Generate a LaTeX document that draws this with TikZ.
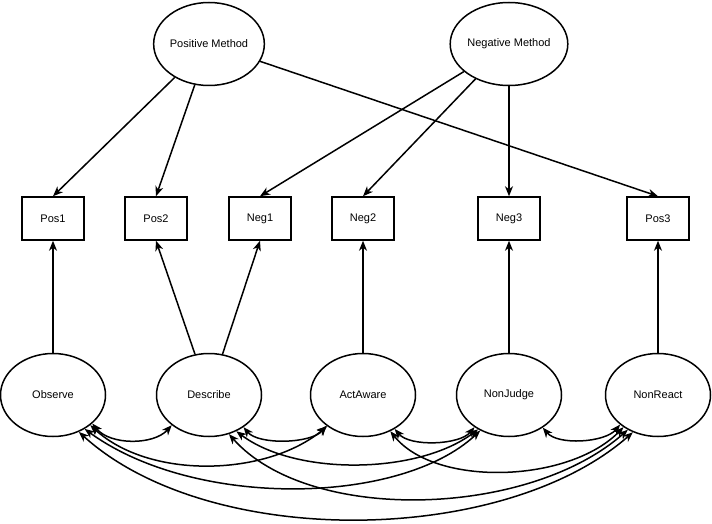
\documentclass[tikz,border=0pt]{standalone}
\usepackage{fontspec}
\setmainfont{Liberation Sans}
\usetikzlibrary{arrows.meta,shapes.geometric}
\begin{document}
\begin{tikzpicture}[x=1pt,y=-1pt,line width=1.5pt,
  lat/.style={ellipse,draw,minimum width=105pt,minimum height=83pt,inner sep=0pt,font=\fontsize{11}{13}\selectfont},
  obs/.style={rectangle,draw,minimum width=62pt,minimum height=43pt,inner sep=0pt,font=\fontsize{11}{13}\selectfont},
  reg/.style={-{Stealth[length=10pt,width=8pt,inset=3pt]}},
  cov/.style={{Stealth[length=10pt,width=8pt,inset=3pt]}-{Stealth[length=10pt,width=8pt,inset=3pt]}}
]
\useasboundingbox (0,0) rectangle (712,524);
% method factors
\node[lat] (pm) at (209,44) {Positive Method};
\node[lat] (nm) at (509,44) {Negative Method};
% indicators
\node[obs] (pos1) at (53,218.5) {Pos1};
\node[obs] (pos2) at (156,218.5) {Pos2};
\node[obs] (neg1) at (260,218.5) {Neg1};
\node[obs] (neg2) at (363,218.5) {Neg2};
\node[obs] (neg3) at (509,218.5) {Neg3};
\node[obs] (pos3) at (658,218.5) {Pos3};
% facets
\node[lat] (obsv) at (53,395) {Observe};
\node[lat] (desc) at (209,395) {Describe};
\node[lat] (act) at (363,395) {ActAware};
\node[lat] (nj) at (509,395) {NonJudge};
\node[lat] (nr) at (658,395) {NonReact};
% method loadings
\draw[reg] (pm) -- (pos1.north);
\draw[reg] (pm) -- (pos2.north);
\draw[reg] (pm) -- (pos3.north);
\draw[reg] (nm) -- (neg1.north);
\draw[reg] (nm) -- (neg2.north);
\draw[reg] (nm) -- (neg3.north);
% facet loadings
\draw[reg] (obsv) -- (pos1.south);
\draw[reg] (desc) -- (pos2.south);
\draw[reg] (desc) -- (neg1.south);
\draw[reg] (act) -- (neg2.south);
\draw[reg] (nj) -- (neg3.south);
\draw[reg] (nr) -- (pos3.south);
% covariances
\draw[cov] (obsv.-36) .. controls +(18,22) and +(-18,20) .. (desc.-141);
\draw[cov] (desc.-43) .. controls +(15,18) and +(-15,18) .. (act.-140);
\draw[cov] (act.-47) .. controls +(15,18) and +(-15,18) .. (nj.-137);
\draw[cov] (nj.-44) .. controls +(15,18) and +(-15,18) .. (nr.-142);
\draw[cov] (obsv.-39) .. controls +(60,55) and +(-60,50) .. (act.-139);
\draw[cov] (obsv.-47) .. controls +(110,80) and +(-80,75) .. (nj.-129);
\draw[cov] (obsv.-55) .. controls +(130,118) and +(-130,114) .. (nr.-124);
\draw[cov] (desc.-53) .. controls +(60,45) and +(-60,45) .. (nj.-132);
\draw[cov] (desc.-63) .. controls +(80,90) and +(-100,88) .. (nr.-131);
\draw[cov] (act.-53) .. controls +(45,56) and +(-55,56) .. (nr.-137);
\end{tikzpicture}
\end{document}
